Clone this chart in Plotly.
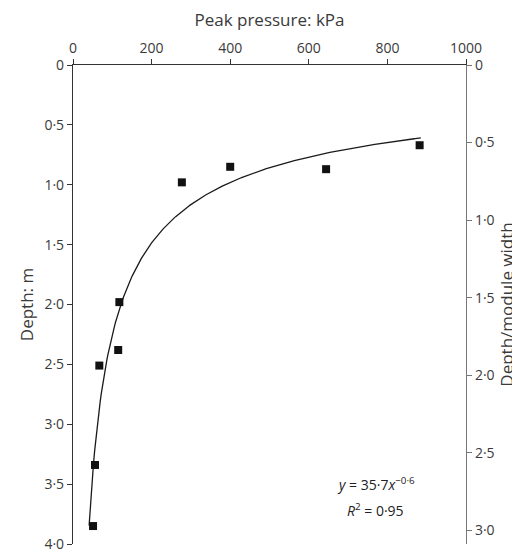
import numpy as np
import plotly.graph_objects as go

# measured points
pressure_kpa = [277, 400, 644, 882, 118, 115, 67, 56, 51]
depth_m = [0.98, 0.85, 0.87, 0.67, 1.98, 2.38, 2.51, 3.34, 3.85]

# power-law fit y = a * x^b
fit_a = 35.7
fit_b = -0.6
fit_x_min, fit_x_max = 41, 885

x_ticks = [0, 200, 400, 600, 800, 1000]
depth_ticks = [0, 0.5, 1.0, 1.5, 2.0, 2.5, 3.0, 3.5, 4.0]
ratio_ticks = [0, 0.5, 1.0, 1.5, 2.0, 2.5, 3.0]
module_width = 1.295


def dot(v):
    return "0" if v == 0 else f"{v:.1f}".replace(".", "·")


fx = np.linspace(fit_x_min, fit_x_max, 300)
fy = fit_a * fx ** fit_b

fig = go.Figure()
fig.add_trace(go.Scatter(x=fx, y=fy, mode="lines",
                         line=dict(color="#1a1a1a", width=1.3), showlegend=False))
fig.add_trace(go.Scatter(x=pressure_kpa, y=depth_m, mode="markers",
                         marker=dict(symbol="square", size=8, color="#111111"),
                         showlegend=False))
# invisible trace to activate right axis
fig.add_trace(go.Scatter(x=[0], y=[0], yaxis="y2", mode="markers",
                         marker=dict(opacity=0), showlegend=False, hoverinfo="skip"))

font = dict(family="Open Sans", size=14, color="#3a3a3a")
fig.update_layout(
    width=520, height=555,
    margin=dict(l=65, r=62, t=55, b=10),
    plot_bgcolor="white", paper_bgcolor="white",
    font=font,
    xaxis=dict(side="top", range=[0, 1000], tickvals=x_ticks,
               ticktext=[str(v) for v in x_ticks], showgrid=False, zeroline=False,
               showline=True, linecolor="#333", linewidth=1.2,
               ticks="outside", ticklen=5, tickcolor="#333",
               title=dict(text="Peak pressure: kPa", standoff=8)),
    yaxis=dict(range=[4.0, 0], tickvals=depth_ticks,
               ticktext=[dot(v) for v in depth_ticks], showgrid=False, zeroline=False,
               showline=True, linecolor="#333", linewidth=1.2,
               ticks="outside", ticklen=5, tickcolor="#333",
               title=dict(text="Depth: m", standoff=6)),
    yaxis2=dict(overlaying="y", side="right", range=[4.0 / module_width, 0],
                tickvals=ratio_ticks, ticktext=[dot(v) for v in ratio_ticks],
                showgrid=False, zeroline=False,
                showline=True, linecolor="#777", linewidth=1.2,
                ticks="outside", ticklen=5, tickcolor="#777",
                title=dict(text="Depth/module width", standoff=6)),
)
ann_font = dict(family="Open Sans", size=14, color="#222")
fig.add_annotation(xref="x", yref="y", x=770, y=3.5, showarrow=False,
                   text="<i>y</i> = 35·7<i>x</i><sup>−0·6</sup>", font=ann_font)
fig.add_annotation(xref="x", yref="y", x=770, y=3.72, showarrow=False,
                   text="<i>R</i><sup>2</sup> = 0·95", font=ann_font)

fig.write_html("out.html")
